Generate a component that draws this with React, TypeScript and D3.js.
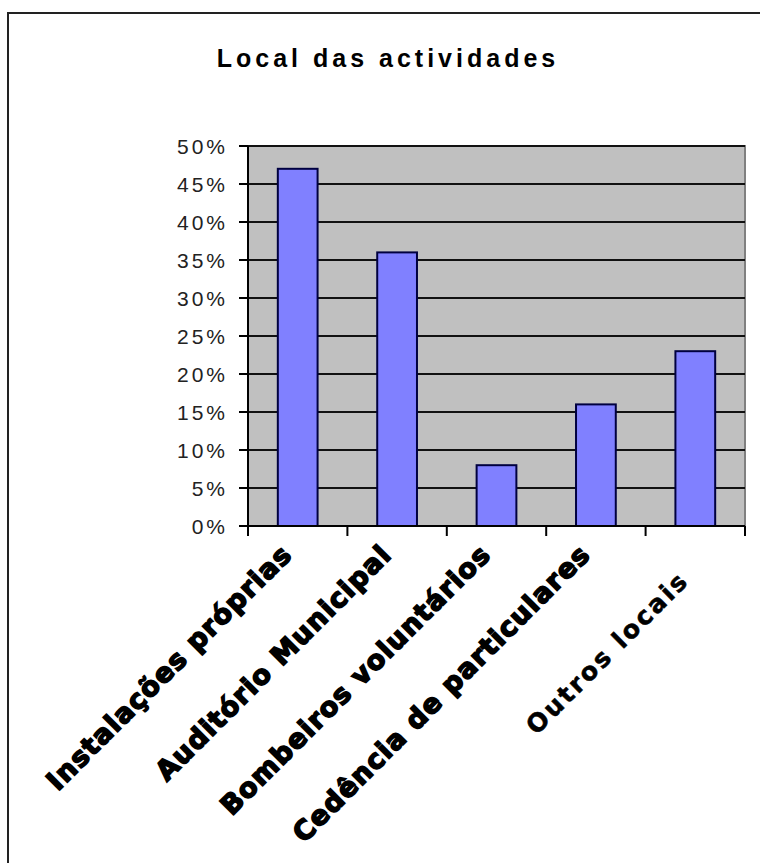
import React from "react";
import * as d3 from "d3";

// Activity locations and their share of responses (%)
const categories = [
  "Instalações próprias",
  "Auditório Municipal",
  "Bombeiros voluntários",
  "Cedência de particulares",
  "Outros locais",
];
const values = [47, 36, 8, 16, 23];
const yTicks = [0, 5, 10, 15, 20, 25, 30, 35, 40, 45, 50];
const title = "Local das actividades";

const W = 760;
const H = 863;
const plot = { left: 248, right: 745, top: 146, bottom: 526 };

export default function App() {
  const x = d3
    .scaleBand<string>()
    .domain(categories)
    .range([plot.left, plot.right])
    .paddingInner(0)
    .paddingOuter(0);
  const y = d3.scaleLinear().domain([0, 50]).range([plot.bottom, plot.top]);
  const barW = x.bandwidth() * 0.4;
  const boundaries = [...categories.map((c) => x(c)!), plot.right];

  return (
    <svg
      width={W}
      height={H}
      style={{ position: "absolute", left: 0, top: 0, background: "#fff" }}
    >
      {/* chart frame, running past the right and bottom edges */}
      <rect x={8} y={13} width={W + 20} height={H + 20} fill="#fff" stroke="#222" strokeWidth={2} />

      <text
        x={388}
        y={67}
        textAnchor="middle"
        fontFamily="Liberation Sans, Arial, sans-serif"
        fontWeight="bold"
        fontSize={25}
        letterSpacing={4}
        fill="#000"
      >
        {title}
      </text>

      {/* plot area */}
      <rect
        x={plot.left}
        y={plot.top}
        width={plot.right - plot.left}
        height={plot.bottom - plot.top}
        fill="#c0c0c0"
        stroke="#808080"
        strokeWidth={2}
      />

      {/* gridlines */}
      {yTicks.slice(1).map((t) => (
        <line key={t} x1={plot.left} x2={plot.right} y1={y(t)} y2={y(t)} stroke="#111" strokeWidth={2} />
      ))}

      {/* bars */}
      {categories.map((c, i) => {
        const cx = x(c)! + x.bandwidth() / 2;
        return (
          <rect
            key={c}
            x={cx - barW / 2}
            y={y(values[i])}
            width={barW}
            height={y(0) - y(values[i])}
            fill="#8080ff"
            stroke="#000040"
            strokeWidth={2}
          />
        );
      })}

      {/* y axis */}
      <line x1={plot.left} x2={plot.left} y1={plot.top} y2={plot.bottom} stroke="#000" strokeWidth={2} />
      {yTicks.map((t) => (
        <g key={t}>
          <line x1={plot.left - 9} x2={plot.left} y1={y(t)} y2={y(t)} stroke="#000" strokeWidth={2} />
          <text
            x={228}
            y={y(t) + 7.5}
            textAnchor="end"
            fontFamily="Liberation Sans, Arial, sans-serif"
            fontSize={21}
            letterSpacing={3}
            fill="#222"
          >
            {`${t}%`}
          </text>
        </g>
      ))}

      {/* x axis */}
      <line x1={plot.left - 9} x2={plot.right} y1={plot.bottom} y2={plot.bottom} stroke="#000" strokeWidth={2} />
      {boundaries.map((bx, i) => (
        <line key={i} x1={bx} x2={bx} y1={plot.bottom} y2={plot.bottom + 10} stroke="#000" strokeWidth={2} />
      ))}

      {/* category labels */}
      {categories.map((c, i) => {
        const cx = x(c)! + x.bandwidth() / 2;
        const last = i === categories.length - 1;
        return (
          <text
            key={c}
            transform={
              last
                ? `translate(${cx - 5},${plot.bottom + 56}) rotate(-45)`
                : `translate(${cx - 4},${plot.bottom + 30}) rotate(-45)`
            }
            textAnchor="end"
            fontFamily="DejaVu Sans, sans-serif"
            fontWeight="bold"
            fontSize={last ? 25 : 27}
            letterSpacing={last ? 2.5 : 1.2}
            fill="#000"
            stroke="#000"
            strokeWidth={last ? 0.6 : 1.6}
          >
            {c}
          </text>
        );
      })}
    </svg>
  );
}
